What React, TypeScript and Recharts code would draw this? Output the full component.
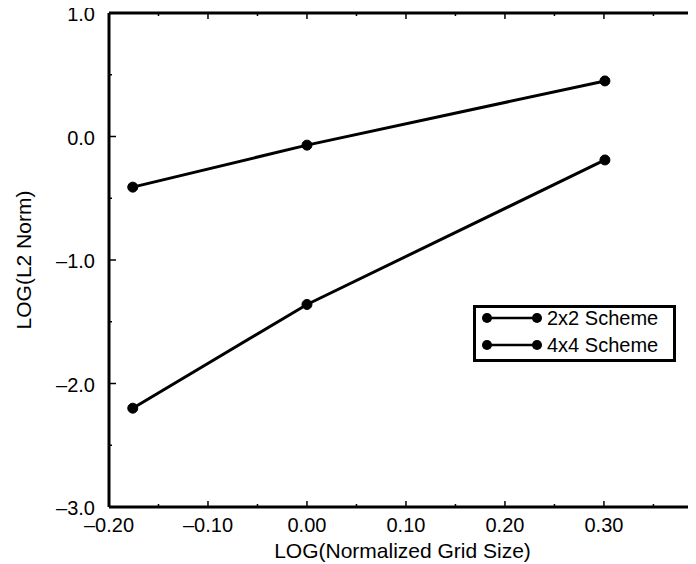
import { LineChart, Line, XAxis, YAxis } from 'recharts';

const gridSize = [-0.176, 0.0, 0.301];
const scheme2x2 = [-0.41, -0.07, 0.45];
const scheme4x4 = [-2.2, -1.36, -0.19];

const xTicks = [-0.2, -0.15, -0.1, -0.05, 0, 0.05, 0.1, 0.15, 0.2, 0.25, 0.3, 0.35];
const yTicks = [-3, -2.5, -2, -1.5, -1, -0.5, 0, 0.5, 1];

const seriesNames = ['2x2 Scheme', '4x4 Scheme'];

const FONT = '"Liberation Sans", Arial, Helvetica, sans-serif';

const data2x2 = gridSize.map((x, i) => ({ x, y: scheme2x2[i] }));
const data4x4 = gridSize.map((x, i) => ({ x, y: scheme4x4[i] }));

const isMajor = (v: number, step: number) =>
  Math.abs(v / step - Math.round(v / step)) < 1e-6;

const fmt = (v: number, digits: number) => {
  const s = Math.abs(v).toFixed(digits);
  return v < -1e-9 ? '\u2013' + s : s;
};

const BottomTick = (props: any) => {
  const { x, y, payload } = props;
  const v = payload.value;
  const major = isMajor(v, 0.1);
  return (
    <g>
      <line x1={x} x2={x} y1={y} y2={y - (major ? 6 : 3)} stroke="#000" strokeWidth={1.5} />
      {major && (
        <text x={x} y={y + 25} textAnchor="middle" fontSize={20} fontFamily={FONT} fill="#000">
          {fmt(v, 2)}
        </text>
      )}
    </g>
  );
};

const TopTick = (props: any) => {
  const { x, y, payload } = props;
  const major = isMajor(payload.value, 0.1);
  return <line x1={x} x2={x} y1={y} y2={y + (major ? 6 : 3)} stroke="#000" strokeWidth={1.5} />;
};

const LeftTick = (props: any) => {
  const { x, y, payload } = props;
  const v = payload.value;
  const major = isMajor(v, 1);
  return (
    <g>
      <line x1={x} x2={x + (major ? 7 : 3)} y1={y} y2={y} stroke="#000" strokeWidth={1.5} />
      {major && (
        <text x={x - 14} y={y + 8} textAnchor="end" fontSize={20} fontFamily={FONT} fill="#000">
          {fmt(v, 1)}
        </text>
      )}
    </g>
  );
};

const YTitle = (props: any) => {
  const { viewBox } = props;
  const cx = viewBox.x + 15;
  const cy = viewBox.y + viewBox.height / 2;
  return (
    <text
      x={cx}
      y={cy}
      transform={`rotate(-90, ${cx}, ${cy})`}
      textAnchor="middle"
      dominantBaseline="central"
      fontSize={21}
      fontFamily={FONT}
      fill="#000"
    >
      LOG(L2 Norm)
    </text>
  );
};

const LegendBox = () => (
  <svg width={203} height={57} style={{ display: 'block' }}>
    <rect x={1.5} y={1.5} width={200} height={54} fill="#fff" stroke="#000" strokeWidth={3} />
    {seriesNames.map((name, i) => {
      const cy = 13 + i * 27;
      return (
        <g key={name}>
          <line x1={14} x2={64} y1={cy} y2={cy} stroke="#000" strokeWidth={2.5} />
          <circle cx={14} cy={cy} r={5} fill="#000" />
          <circle cx={64} cy={cy} r={5} fill="#000" />
          <text x={74} y={cy + 7} fontSize={20} fontFamily={FONT} fill="#000">
            {name}
          </text>
        </g>
      );
    })}
  </svg>
);

export default function App() {
  return (
    <div
      style={{
        position: 'relative',
        marginTop: -8,
        marginLeft: -8,
        width: 696,
        height: 564,
        background: '#fff',
      }}
    >
      <LineChart width={696} height={564} margin={{ top: 8, right: 0, bottom: 0, left: 8 }}>
        <XAxis
          xAxisId="bottom"
          type="number"
          dataKey="x"
          domain={[-0.2, 0.393]}
          allowDataOverflow
          ticks={xTicks}
          interval={0}
          height={57}
          tickSize={0}
          tickMargin={0}
          tickLine={false}
          tick={<BottomTick />}
          axisLine={{ stroke: '#000', strokeWidth: 3 }}
          label={{
            value: 'LOG(Normalized Grid Size)',
            position: 'insideBottom',
            offset: 6,
            fontSize: 21,
            fontFamily: FONT,
            fill: '#000',
          }}
        />
        <XAxis
          xAxisId="top"
          orientation="top"
          type="number"
          dataKey="x"
          domain={[-0.2, 0.393]}
          allowDataOverflow
          ticks={xTicks}
          interval={0}
          height={5}
          tickSize={0}
          tickMargin={0}
          tickLine={false}
          tick={<TopTick />}
          axisLine={{ stroke: '#000', strokeWidth: 3 }}
        />
        <YAxis
          type="number"
          dataKey="y"
          domain={[-3, 1]}
          allowDataOverflow
          ticks={yTicks}
          interval={0}
          width={101}
          tickSize={0}
          tickMargin={0}
          tickLine={false}
          tick={<LeftTick />}
          axisLine={{ stroke: '#000', strokeWidth: 3 }}
          label={<YTitle />}
        />
        <Line
          xAxisId="bottom"
          data={data2x2}
          dataKey="y"
          name={seriesNames[0]}
          type="linear"
          stroke="#000"
          strokeWidth={3}
          dot={{ r: 5, fill: '#000', stroke: '#000', strokeWidth: 1 }}
          isAnimationActive={false}
        />
        <Line
          xAxisId="bottom"
          data={data4x4}
          dataKey="y"
          name={seriesNames[1]}
          type="linear"
          stroke="#000"
          strokeWidth={3}
          dot={{ r: 5, fill: '#000', stroke: '#000', strokeWidth: 1 }}
          isAnimationActive={false}
        />
      </LineChart>
      <div style={{ position: 'absolute', left: 473, top: 305 }}>
        <LegendBox />
      </div>
    </div>
  );
}
